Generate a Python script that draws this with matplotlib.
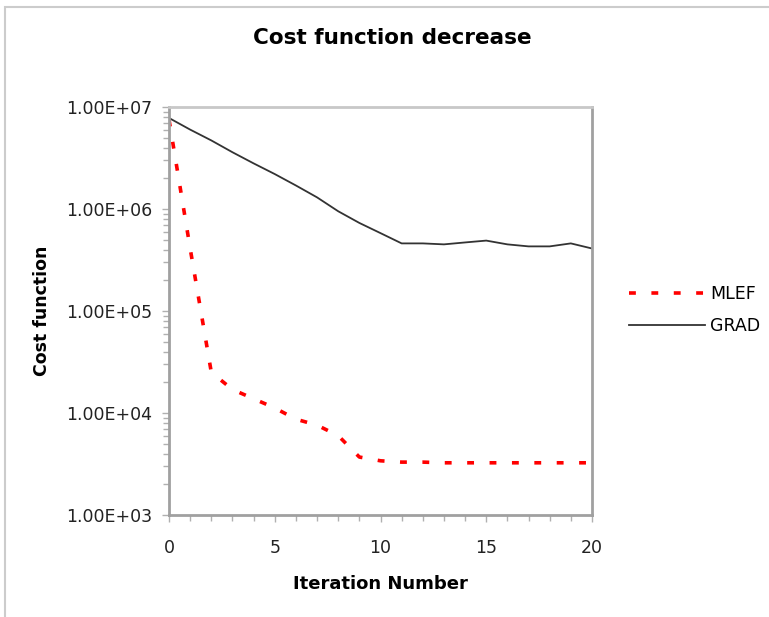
import matplotlib.pyplot as plt
from matplotlib.ticker import FixedLocator, NullFormatter, LogLocator
from matplotlib.patches import Rectangle

iteracoes = list(range(0, 21))
mlef = [7.5e6, 4.1e5, 2.5e4, 1.7e4, 1.38e4, 1.12e4, 8.7e3, 7.6e3, 6.0e3, 3.7e3,
        3.4e3, 3.3e3, 3.3e3, 3.25e3, 3.25e3, 3.25e3, 3.25e3, 3.25e3, 3.25e3, 3.25e3, 3.25e3]
grad = [7.8e6, 6.0e6, 4.7e6, 3.6e6, 2.8e6, 2.2e6, 1.7e6, 1.3e6, 9.5e5, 7.3e5,
        5.8e5, 4.6e5, 4.6e5, 4.5e5, 4.7e5, 4.9e5, 4.5e5, 4.3e5, 4.3e5, 4.6e5, 4.1e5]
ytick_labels = ['1.00E+03', '1.00E+04', '1.00E+05', '1.00E+06', '1.00E+07']

fig = plt.figure(figsize=(7.69, 6.17), dpi=100)
fig.patches.append(Rectangle((0.007, -0.02), 1.1, 1.008, transform=fig.transFigure,
                             fill=False, edgecolor='#cccccc', linewidth=1.5))
ax = fig.add_axes([0.2198, 0.1653, 0.55, 0.6613])

ax.plot(iteracoes, mlef, color='#ff0000', linewidth=2.6, linestyle=(0, (1.9, 4.3)), label='MLEF')
ax.plot(iteracoes, grad, color='#333333', linewidth=1.3, label='GRAD')

ax.set_yscale('log')
ax.set_ylim(1e3, 1e7)
ax.set_xlim(0, 20)
ax.set_yticks([1e3, 1e4, 1e5, 1e6, 1e7])
ax.set_yticklabels(ytick_labels)
ax.yaxis.set_minor_locator(LogLocator(base=10, subs=range(2, 10)))
ax.yaxis.set_minor_formatter(NullFormatter())
ax.set_xticks([0, 5, 10, 15, 20])
ax.xaxis.set_minor_locator(FixedLocator(range(0, 21)))

for s in ax.spines.values():
    s.set_color('#a0a0a0')
    s.set_linewidth(2)
ax.spines['top'].set_color('#c8c8c8')
ax.tick_params(which='both', direction='out', color='#b0b0b0', labelsize=12.5, labelcolor='#222222')
ax.tick_params(which='major', length=5, width=1)
ax.tick_params(which='minor', length=4, width=1)
ax.tick_params(axis='y', pad=7)
ax.tick_params(axis='x', pad=12)

ax.set_title('Cost function decrease', fontsize=15.5, fontweight='bold', pad=45, x=0.528)
ax.set_xlabel('Iteration Number', fontsize=13, fontweight='bold', labelpad=13)
ax.set_ylabel('Cost function', fontsize=12.5, fontweight='bold', labelpad=11)

ax.legend(loc='center left', bbox_to_anchor=(1.087, 0.502), frameon=False, fontsize=12.5,
          borderpad=0, borderaxespad=0, handlelength=4.4, handletextpad=0.3, labelspacing=0.8)

plt.savefig('out.png', dpi=100)
